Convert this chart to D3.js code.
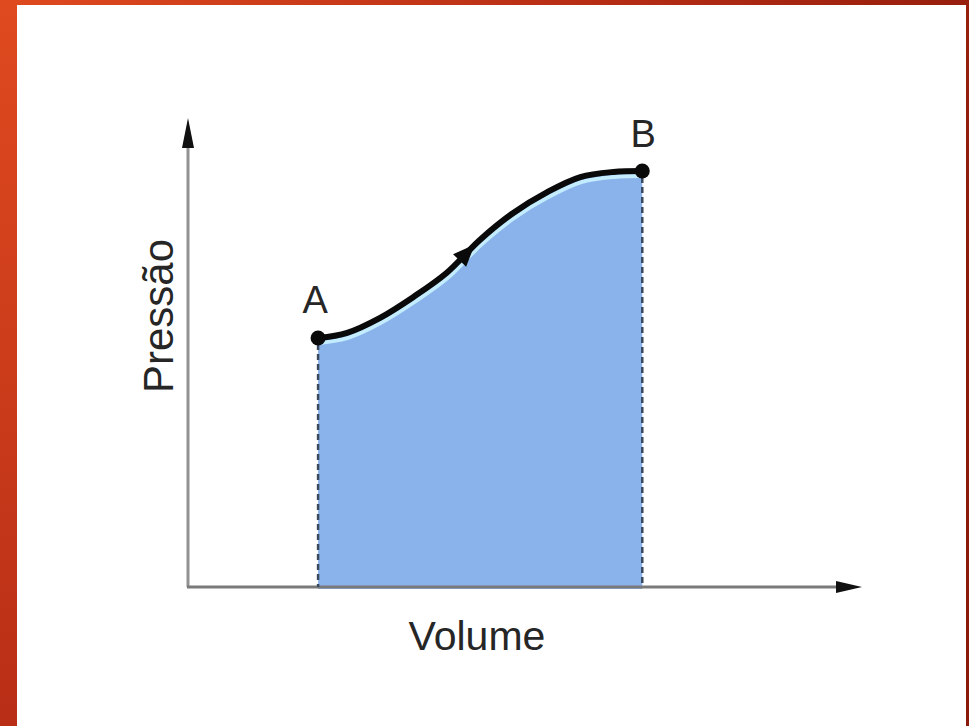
<!DOCTYPE html>
<html>
<head>
<meta charset="utf-8">
<script src="https://cdn.jsdelivr.net/npm/d3@7"></script>
<style>
  html, body { margin: 0; padding: 0; background: #fff; }
  svg { display: block; }
  text { font-family: "Liberation Sans", Arial, sans-serif; fill: #262626; }
</style>
</head>
<body>
<svg id="chart" width="969" height="726"></svg>
<script>
// ---- data ----
const volume   = [1.93, 2.36, 2.85, 3.34, 3.84, 4.33, 4.82, 5.33, 5.82, 6.31, 6.74];
const pressure = [5.31, 5.42, 5.74, 6.18, 6.70, 7.40, 7.97, 8.42, 8.74, 8.85, 8.87];
const pointLabels = ["A", "B"];
const axisTitles = { x: "Volume", y: "Pressão" };

const W = 969, H = 726;
const svg = d3.select("#chart");

// frame with gradient
const defs = svg.append("defs");
const grad = defs.append("linearGradient").attr("id", "frame")
  .attr("x1", "0%").attr("y1", "0%").attr("x2", "100%").attr("y2", "40%");
grad.append("stop").attr("offset", "0%").attr("stop-color", "#df4a1f");
grad.append("stop").attr("offset", "55%").attr("stop-color", "#b52c14");
grad.append("stop").attr("offset", "100%").attr("stop-color", "#8a190a");
const gradL = defs.append("linearGradient").attr("id", "frameL")
  .attr("x1", "0").attr("y1", "0").attr("x2", "0").attr("y2", "1");
gradL.append("stop").attr("offset", "0%").attr("stop-color", "#df4a1f");
gradL.append("stop").attr("offset", "100%").attr("stop-color", "#b82e16");

svg.append("rect").attr("width", W).attr("height", H).attr("fill", "url(#frame)");
svg.append("rect").attr("width", 17).attr("height", H).attr("fill", "url(#frameL)");
svg.append("rect").attr("x", 17).attr("y", 5).attr("width", 949).attr("height", H - 5).attr("fill", "#ffffff");

// scales
const x = d3.scaleLinear().domain([0, 10]).range([188, 862]);
const y = d3.scaleLinear().domain([0, 10]).range([587, 118]);

const pts = volume.map((v, i) => [v, pressure[i]]);

// filled area
const area = d3.area()
  .x(d => x(d[0])).y0(y(0) + 2).y1(d => y(d[1]))
  .curve(d3.curveCatmullRom);
svg.append("path").datum(pts).attr("d", area).attr("fill", "#8ab3ec");

// light edge just below the curve
const line = d3.line().x(d => x(d[0])).y(d => y(d[1])).curve(d3.curveCatmullRom);
svg.append("path").datum(pts).attr("d", line)
  .attr("fill", "none").attr("stroke", "#c4ecff").attr("stroke-width", 4)
  .attr("transform", "translate(1,5)");

// axes with arrowheads
svg.append("line").attr("x1", x(0)).attr("y1", y(0)).attr("x2", x(0)).attr("y2", y(10) + 25)
  .attr("stroke", "#929292").attr("stroke-width", 3);
svg.append("line").attr("x1", x(0) - 1).attr("y1", y(0)).attr("x2", x(10) - 20).attr("y2", y(0))
  .attr("stroke", "#7a7a7a").attr("stroke-width", 3);
// y arrow
svg.append("path")
  .attr("d", `M${x(0)},${y(10)} L${x(0) - 6},${y(10) + 30} L${x(0) + 6},${y(10) + 30} Z`)
  .attr("fill", "#111");
// x arrow
svg.append("path")
  .attr("d", `M${x(10)},${y(0)} L${x(10) - 26},${y(0) - 6} L${x(10) - 26},${y(0) + 6} Z`)
  .attr("fill", "#111");

// dashed verticals
[pts[0], pts[pts.length - 1]].forEach(d => {
  svg.append("line")
    .attr("x1", x(d[0])).attr("x2", x(d[0]))
    .attr("y1", y(d[1]) + 6).attr("y2", y(0))
    .attr("stroke", "#3a4a5c").attr("stroke-width", 2.5)
    .attr("stroke-dasharray", "6,4");
});

// curve
const curvePath = svg.append("path").datum(pts).attr("d", line)
  .attr("fill", "none").attr("stroke", "#0a0a0a").attr("stroke-width", 6)
  .attr("stroke-linecap", "round");

// direction arrow on the curve
const node = curvePath.node();
const L = node.getTotalLength();
const p1 = node.getPointAtLength(L * 0.47);
const p0 = node.getPointAtLength(L * 0.47 - 6);
const ang = Math.atan2(p1.y - p0.y, p1.x - p0.x) * 180 / Math.PI;
svg.append("path")
  .attr("d", "M10,0 L-12,-9 L-12,9 Z")
  .attr("fill", "#0a0a0a")
  .attr("transform", `translate(${p1.x},${p1.y}) rotate(${ang})`);

// end points
[pts[0], pts[pts.length - 1]].forEach(d => {
  svg.append("circle").attr("cx", x(d[0])).attr("cy", y(d[1])).attr("r", 7.5).attr("fill", "#0a0a0a");
});

// point labels
svg.append("text").attr("x", x(pts[0][0]) - 3).attr("y", y(pts[0][1]) - 25)
  .attr("text-anchor", "middle").attr("font-size", 38).text(pointLabels[0]);
svg.append("text").attr("x", x(pts[pts.length - 1][0]) + 1).attr("y", y(pts[pts.length - 1][1]) - 24)
  .attr("text-anchor", "middle").attr("font-size", 38).text(pointLabels[1]);

// axis titles
svg.append("text").attr("x", 477).attr("y", 650)
  .attr("text-anchor", "middle").attr("font-size", 41).text(axisTitles.x);
svg.append("text")
  .attr("transform", "translate(173,316) rotate(-90)")
  .attr("text-anchor", "middle").attr("font-size", 42).text(axisTitles.y);
</script>
</body>
</html>
